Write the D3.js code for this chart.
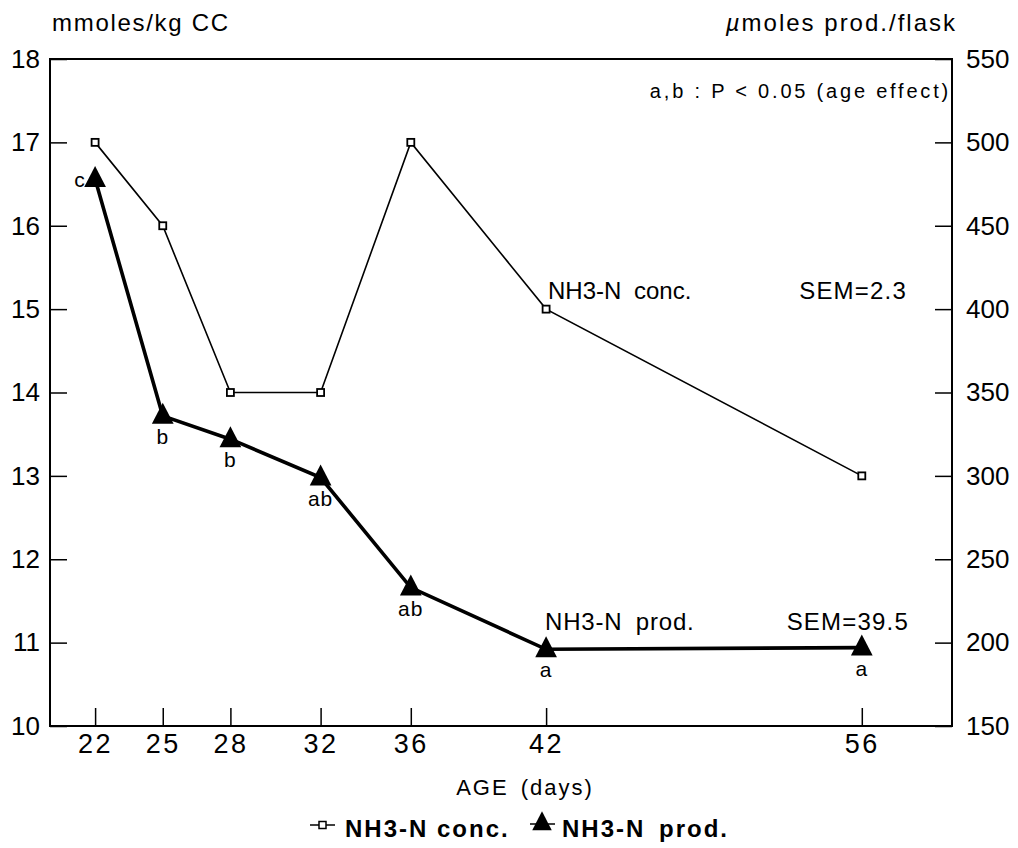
<!DOCTYPE html>
<html>
<head>
<meta charset="utf-8">
<script src="https://cdn.jsdelivr.net/npm/d3@7"></script>
<style>
  body { margin: 0; background: #fff; }
  svg text { font-family: "Liberation Sans", Arial, sans-serif; fill: #000; }
</style>
</head>
<body>
<svg id="chart" width="1018" height="848"></svg>
<script>
// ages (days)
var ages = [22, 25, 28, 32, 36, 42, 56];
// NH3-N concentration, mmoles/kg CC (left axis)
var concValues = [17, 16, 14, 14, 17, 15, 13];
// NH3-N production, umoles prod./flask (right axis)
var prodValues = [478, 336, 322, 299, 233, 196, 197];
// significance letters for production
var prodLetters = ["c", "b", "b", "ab", "ab", "a", "a"];
var leftTicks = [10, 11, 12, 13, 14, 15, 16, 17, 18];
var rightTicks = [150, 200, 250, 300, 350, 400, 450, 500, 550];

var svg = d3.select("#chart");
var MARGINS = { top: 59, right: 66, bottom: 122, left: 50 };
var WIDTH = 1018, HEIGHT = 848;

var x = d3.scaleLinear().domain([20, 60]).range([MARGINS.left, WIDTH - MARGINS.right]);
var yL = d3.scaleLinear().domain([10, 18]).range([HEIGHT - MARGINS.bottom, MARGINS.top]);
var yR = d3.scaleLinear().domain([150, 550]).range([HEIGHT - MARGINS.bottom, MARGINS.top]);

var x0 = x.range()[0], x1 = x.range()[1], y0 = yL.range()[0], y1 = yL.range()[1];

// frame
svg.append("rect")
  .attr("x", x0).attr("y", y1)
  .attr("width", x1 - x0).attr("height", y0 - y1)
  .attr("fill", "none").attr("stroke", "#000").attr("stroke-width", 2);

function styleAxis(g, size, spacing) {
  g.attr("font-family", null);
  g.select(".domain").remove();
  g.selectAll(".tick line").attr("stroke", "#000").attr("stroke-width", 1.5);
  g.selectAll(".tick text").style("font-size", size + "px")
    .style("letter-spacing", spacing + "px").attr("fill", "#000");
}

svg.append("g")
  .attr("transform", "translate(" + x0 + ",0)")
  .call(d3.axisLeft(yL).tickValues(leftTicks).tickFormat(d3.format("d")).tickSizeInner(-17).tickSizeOuter(0).tickPadding(10))
  .call(styleAxis, 26, 0);

svg.append("g")
  .attr("transform", "translate(" + x1 + ",0)")
  .call(d3.axisRight(yR).tickValues(rightTicks).tickFormat(d3.format("d")).tickSizeInner(-17).tickSizeOuter(0).tickPadding(14))
  .call(styleAxis, 26, 0);

svg.append("g")
  .attr("transform", "translate(0," + y0 + ")")
  .call(d3.axisBottom(x).tickValues(ages).tickFormat(d3.format("d")).tickSizeInner(-18).tickSizeOuter(0).tickPadding(8))
  .call(styleAxis, 27, 2.5);

// axis titles
svg.append("text").attr("x", 52).attr("y", 31).style("font-size", "24px")
  .style("letter-spacing", "1.7px").text("mmoles/kg CC");
var rt = svg.append("text").attr("x", 957).attr("y", 31).attr("text-anchor", "end")
  .style("font-size", "24px").style("letter-spacing", "2px");
rt.append("tspan").style("font-style", "italic").text("\u00b5");
rt.append("tspan").text("moles prod./flask");
svg.append("text").attr("x", 525).attr("y", 795).attr("text-anchor", "middle")
  .style("font-size", "22px").style("letter-spacing", "2px").style("word-spacing", "4px")
  .text("AGE (days)");

var concData = ages.map(function (a, i) { return { x: a, y: concValues[i] }; });
var prodData = ages.map(function (a, i) { return { x: a, y: prodValues[i], t: prodLetters[i] }; });

var concLine = d3.line().x(function (d) { return x(d.x); }).y(function (d) { return yL(d.y); });
var prodLine = d3.line().x(function (d) { return x(d.x); }).y(function (d) { return yR(d.y); });

svg.append("path").attr("d", concLine(concData))
  .attr("fill", "none").attr("stroke", "#000").attr("stroke-width", 1.6);
svg.append("path").attr("d", prodLine(prodData))
  .attr("fill", "none").attr("stroke", "#000").attr("stroke-width", 3.6);

svg.selectAll(".sq").data(concData).enter().append("rect")
  .attr("x", function (d) { return x(d.x) - 3.5; })
  .attr("y", function (d) { return yL(d.y) - 3.5; })
  .attr("width", 7).attr("height", 7)
  .attr("fill", "#fff").attr("stroke", "#000").attr("stroke-width", 1.8);

// tall triangle like the scanned marker
var tallTriangle = {
  draw: function (context, size) {
    var w = Math.sqrt(size) * 0.75, h = Math.sqrt(size) * 1.45;
    context.moveTo(0, -h * 0.62);
    context.lineTo(w, h * 0.38);
    context.lineTo(-w, h * 0.38);
    context.closePath();
  }
};
var tri = d3.symbol().type(tallTriangle).size(210);
svg.selectAll(".tri").data(prodData).enter().append("path")
  .attr("d", tri)
  .attr("transform", function (d) { return "translate(" + x(d.x) + "," + yR(d.y) + ")"; })
  .attr("fill", "#000");

svg.selectAll(".lbl").data(prodData).enter().append("text")
  .attr("x", function (d, i) { return i === 0 ? x(d.x) - 15 : x(d.x); })
  .attr("y", function (d, i) { return i === 0 ? yR(d.y) + 8 : yR(d.y) + 28; })
  .attr("text-anchor", "middle")
  .style("font-size", "21px").style("letter-spacing", "1px")
  .text(function (d) { return d.t; });

// annotations
svg.append("text").attr("x", 951).attr("y", 98).attr("text-anchor", "end")
  .style("font-size", "20px").style("letter-spacing", "2.8px")
  .text("a,b : P < 0.05 (age effect)");
svg.append("text").attr("x", 548).attr("y", 299).style("font-size", "24px")
  .style("word-spacing", "6px").text("NH3-N conc.");
svg.append("text").attr("x", 907).attr("y", 299).attr("text-anchor", "end")
  .style("font-size", "24px").style("letter-spacing", "1.2px").text("SEM=2.3");
svg.append("text").attr("x", 545).attr("y", 630).style("font-size", "24px")
  .style("letter-spacing", "0.8px").style("word-spacing", "6px").text("NH3-N prod.");
svg.append("text").attr("x", 909).attr("y", 630).attr("text-anchor", "end")
  .style("font-size", "24px").style("letter-spacing", "1.2px").text("SEM=39.5");

// legend
var leg = svg.append("g").attr("transform", "translate(0,837)");
leg.append("line").attr("x1", 310).attr("x2", 335).attr("y1", -12).attr("y2", -12)
  .attr("stroke", "#000").attr("stroke-width", 1.5);
leg.append("rect").attr("x", 319).attr("y", -15.5).attr("width", 7).attr("height", 7)
  .attr("fill", "#fff").attr("stroke", "#000").attr("stroke-width", 1.5);
leg.append("text").attr("x", 345).attr("y", 0).style("font-size", "24px").style("font-weight", "bold")
  .style("letter-spacing", "2px").text("NH3-N conc.");
leg.append("line").attr("x1", 530).attr("x2", 555).attr("y1", -13).attr("y2", -13)
  .attr("stroke", "#000").attr("stroke-width", 1.5);
leg.append("path").attr("d", d3.symbol().type(tallTriangle).size(170))
  .attr("transform", "translate(542,-14)").attr("fill", "#000");
leg.append("text").attr("x", 562).attr("y", 0).style("font-size", "24px").style("font-weight", "bold")
  .style("letter-spacing", "2px").style("word-spacing", "5px").text("NH3-N prod.");
</script>
</body>
</html>
